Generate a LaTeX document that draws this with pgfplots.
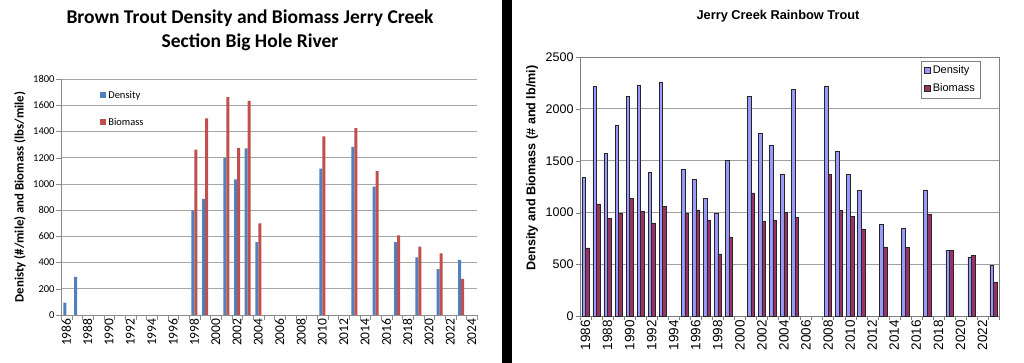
\documentclass[border=0pt]{standalone}
\usepackage{pgfplots}
\pgfplotsset{compat=1.18}
\usepackage{fontspec}
\newfontfamily\carlito{Carlito}
\newfontfamily\arial{Liberation Sans}
\definecolor{lblue}{HTML}{4F81BD}
\definecolor{lred}{HTML}{C0504D}
\definecolor{rblue}{HTML}{9999FF}
\definecolor{rred}{HTML}{993366}
\begin{document}
\begin{tikzpicture}[x=1pt,y=1pt]
\fill[white] (0,0) rectangle (1024,363);
\useasboundingbox (0,0) rectangle (1024,363);
\fill[black] (502,0) rectangle (512,363);
% titles
\node[align=center, font=\carlito\bfseries\fontsize{19.5}{24}\selectfont] at (250,333) {Brown Trout Density and Biomass Jerry Creek\\Section Big Hole River};
\node[font=\arial\bfseries\fontsize{12.8}{15}\selectfont] at (778,347) {Jerry Creek Rainbow Trout};
\node[rotate=90, font=\carlito\bfseries\fontsize{12.8}{15}\selectfont] at (20,166) {Denisty (\#/mile) and Biomass (lbs/mile)};
\node[rotate=90, font=\arial\bfseries\fontsize{12.6}{15}\selectfont] at (532,195) {Density and Biomass (\# and lb/mi)};

% left chart
\begin{axis}[
  at={(61pt,48pt)}, anchor=south west, scale only axis,
  width=416pt, height=236pt,
  xmin=1985.5, xmax=2024.5, ymin=0, ymax=1800,
  axis x line*=bottom, axis y line*=left,
  axis line style={gray!90},
  ytick={0,200,...,1800},
  xtick={1986,1988,...,2024},
  minor xtick={1985.5,1986.5,...,2024.5},
  minor ytick={0,200,...,1800},
  major tick length=0pt, minor tick length=5pt,
  tick align=outside,
  minor tick style={gray!90},
  ymajorgrids, grid style={gray!70, line width=0.7pt},
  /pgf/number format/assume math mode=true,
  /pgf/number format/set thousands separator={},
  tick label style={font=\carlito\fontsize{10.5}{12}\selectfont},
  y tick label style={xshift=-3pt},
  x tick label style={rotate=90, anchor=east, font=\carlito\fontsize{13.5}{15}\selectfont},
  ybar=0pt, bar width=3pt,
  legend style={at={(0.094,0.958)}, anchor=north west, draw=none, fill=none,
    font=\carlito\fontsize{10.5}{12}\selectfont, row sep=14pt, inner sep=0pt},
  legend cell align=left,
  legend image code/.code={\fill[#1,draw=none] (0pt,-3pt) rectangle (6pt,3pt);},
]
\addplot[fill=lblue, draw=none] coordinates {(1986,95)(1987,290)(1998,798)(1999,885)(2001,1198)(2002,1035)(2003,1270)(2004,556)(2010,1117)(2013,1282)(2015,980)(2017,556)(2019,440)(2021,350)(2023,420)};
\addplot[fill=lred, draw=none] coordinates {(1998,1262)(1999,1500)(2001,1662)(2002,1274)(2003,1633)(2004,698)(2010,1363)(2013,1425)(2015,1097)(2017,607)(2019,521)(2021,470)(2023,275)};
\legend{Density,Biomass}
\end{axis}

% right chart
\begin{axis}[
  at={(580pt,46.5pt)}, anchor=south west, scale only axis,
  width=419pt, height=259.5pt,
  xmin=1985.5, xmax=2023.5, ymin=0, ymax=2500,
  axis line style={gray},
  tick pos=left,
  ytick={0,500,...,2500},
  xtick={1986,1988,...,2022},
  minor xtick={1985.5,1986.5,...,2023.5},
  minor ytick={0,500,...,2500},
  major tick length=0pt, minor tick length=4pt,
  tick align=outside,
  minor tick style={gray},
  ymajorgrids, grid style={gray!75, line width=0.8pt},
  /pgf/number format/assume math mode=true,
  /pgf/number format/set thousands separator={},
  tick label style={font=\arial\fontsize{12.5}{14}\selectfont},
  y tick label style={xshift=-3pt},
  x tick label style={rotate=90, anchor=east, font=\arial\fontsize{13.5}{15}\selectfont},
  ybar=0pt, bar width=3.6pt,
  legend style={at={(0.955,0.986)}, anchor=north east, draw=gray, fill=white,
    font=\arial\fontsize{11}{12}\selectfont, row sep=4pt, inner sep=3pt},
  legend cell align=left,
  legend image code/.code={\draw[#1] (0pt,-3pt) rectangle (6pt,3pt);},
]
\addplot[fill=rblue, draw=black!85, line width=0.5pt] coordinates {(1986,1338)(1987,2217)(1988,1570)(1989,1838)(1990,2118)(1991,2230)(1992,1386)(1993,2260)(1995,1418)(1996,1324)(1997,1139)(1998,995)(1999,1503)(2001,2118)(2002,1770)(2003,1645)(2004,1373)(2005,2185)(2008,2222)(2009,1588)(2010,1368)(2011,1216)(2013,884)(2015,846)(2017,1219)(2019,635)(2021,572)(2023,495)};
\addplot[fill=rred, draw=black!85, line width=0.5pt] coordinates {(1986,661)(1987,1084)(1988,948)(1989,990)(1990,1135)(1991,1013)(1992,903)(1993,1061)(1995,990)(1996,1026)(1997,932)(1998,604)(1999,765)(2001,1192)(2002,916)(2003,926)(2004,1004)(2005,955)(2008,1366)(2009,1019)(2010,961)(2011,845)(2013,671)(2015,665)(2017,984)(2019,638)(2021,591)(2023,330)};
\legend{Density,Biomass}
\end{axis}
\end{tikzpicture}
\end{document}
